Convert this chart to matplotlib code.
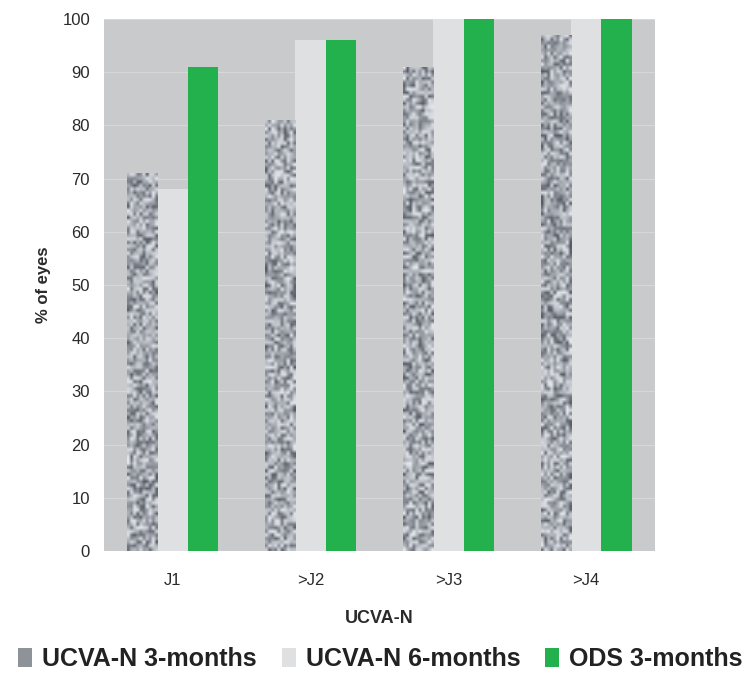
import numpy as np
import matplotlib.pyplot as plt
from matplotlib.patches import Patch
from matplotlib.colors import LinearSegmentedColormap

plt.rcParams['font.family'] = ['Liberation Sans', 'DejaVu Sans']

categories = ['J1', '>J2', '>J3', '>J4']
ucva_3m = [71, 81, 91, 97]
ucva_6m = [68, 96, 100, 100]
ods_3m = [91, 96, 100, 100]
series_labels = ['UCVA-N 3-months', 'UCVA-N 6-months', 'ODS 3-months']
yticks = list(range(0, 101, 10))

bg = '#c9cacc'
light = '#dfe0e2'
green = '#22b14c'
granite_cmap = LinearSegmentedColormap.from_list(
    'granite', ['#545a63', '#8f949c', '#b9bdc4', '#e6e8ec'])

fig = plt.figure(figsize=(7.46, 6.75), dpi=100)
ax = fig.add_axes([0.1394, 0.1837, 0.7386, 0.7882])
ax.set_facecolor(bg)

x = np.arange(len(categories))
w = 0.22
rng = np.random.default_rng(7)

bars1 = ax.bar(x - w, ucva_3m, w, color='#9a9fa6', zorder=2)
ax.bar(x, ucva_6m, w, color=light, zorder=2)
ax.bar(x + w, ods_3m, w, color=green, zorder=2)

# speckled stone texture on the 3-month bars
for b in bars1:
    x0, y0 = b.get_x(), b.get_y()
    bw, bh = b.get_width(), b.get_height()
    tex = rng.random((int(bh * 1.5), 10))
    im = ax.imshow(tex, extent=(x0, x0 + bw, y0, y0 + bh), aspect='auto',
                   cmap=granite_cmap, interpolation='bilinear', zorder=3,
                   vmin=0.0, vmax=1.0)
    im.set_clip_path(b)

ax.set_xlim(-0.5, len(categories) - 0.5)
ax.set_ylim(0, 100)
ax.set_yticks(yticks)
ax.set_xticks(x)
ax.set_xticklabels(categories)
ax.grid(axis='y', color='#d6d7d9', linewidth=0.9, zorder=1)
ax.set_axisbelow(True)
for s in ax.spines.values():
    s.set_visible(False)
ax.tick_params(length=0, labelsize=12, labelcolor='#2a2a2a', pad=10)
ax.tick_params(axis='x', pad=16)

ax.set_ylabel('% of eyes', fontsize=12, fontweight='bold', color='#2a2a2a', labelpad=8)
ax.set_xlabel('UCVA-N', fontsize=13, fontweight='bold', color='#2a2a2a', labelpad=16)

handles = [Patch(facecolor='#8e939a'), Patch(facecolor=light), Patch(facecolor=green)]
fig.legend(handles, series_labels, loc='center', bbox_to_anchor=(0.51, 0.024),
           ncol=3, frameon=False, prop={'size': 18, 'weight': 'bold'},
           handlelength=0.55, handleheight=0.8, handletextpad=0.4, columnspacing=1.0,
           labelcolor='#222222')

fig.savefig('out.png', dpi=100)
